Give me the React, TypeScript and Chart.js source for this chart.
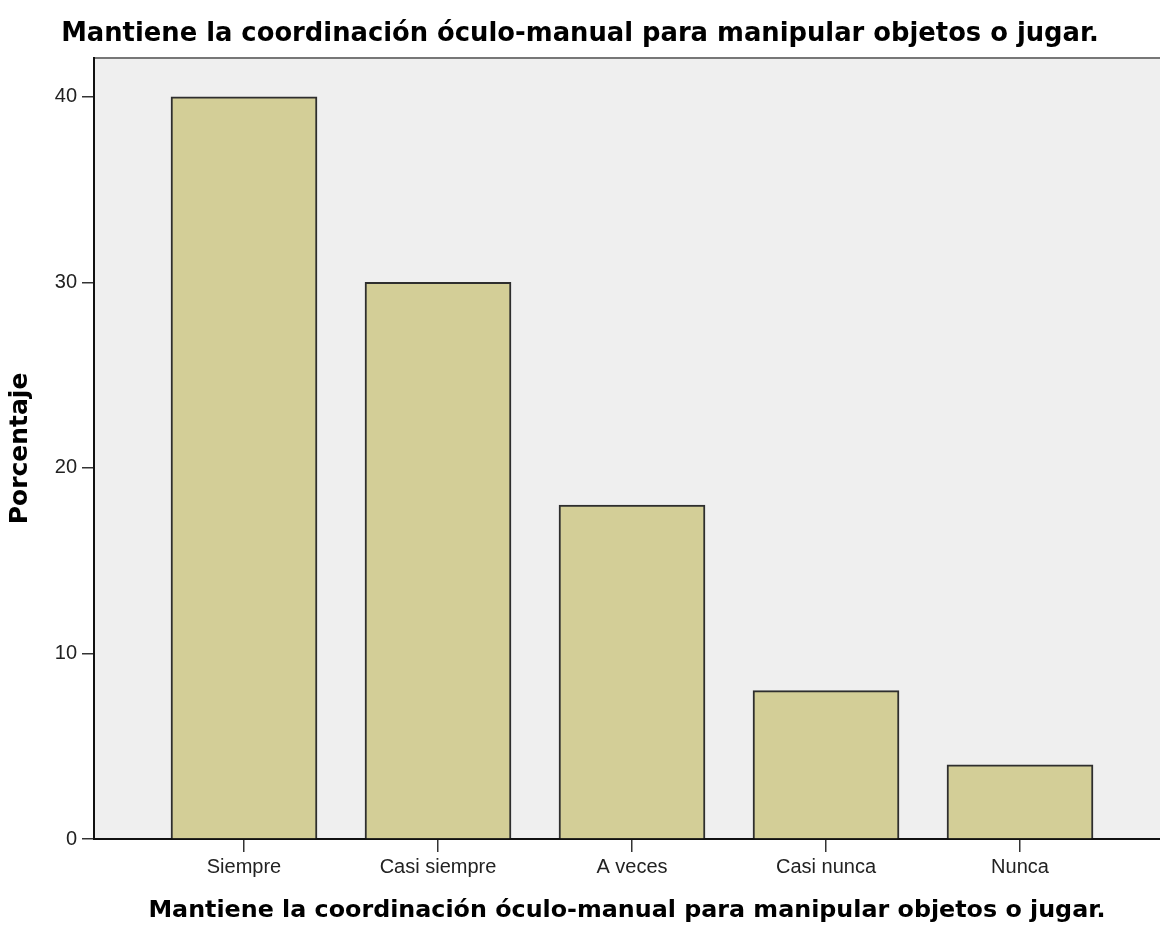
import React, { useEffect, useRef } from "react";
import { Chart, registerables } from "chart.js";

Chart.register(...registerables);

const titleText = "Mantiene la coordinación óculo-manual para manipular objetos o jugar.";
const categories = ["Siempre", "Casi siempre", "A veces", "Casi nunca", "Nunca"];
const percentages = [40, 30, 18, 8, 4];
const yTicks = [0, 10, 20, 30, 40];
const yAxisTitle = "Porcentaje";

const plotBackground = {
  id: "plotBackground",
  beforeDraw(chart: any) {
    const { ctx, chartArea } = chart;
    if (!chartArea) return;
    ctx.save();
    ctx.fillStyle = "#efefef";
    ctx.fillRect(chartArea.left, chartArea.top, chartArea.right - chartArea.left, chartArea.bottom - chartArea.top);
    ctx.strokeStyle = "#777777";
    ctx.lineWidth = 2;
    ctx.beginPath();
    ctx.moveTo(chartArea.left - 1, chartArea.top);
    ctx.lineTo(chartArea.right, chartArea.top);
    ctx.stroke();
    ctx.restore();
  },
};

export default function App() {
  const ref = useRef<HTMLCanvasElement | null>(null);
  useEffect(() => {
    if (!ref.current) return;
    const chart = new Chart(ref.current, {
      type: "bar",
      data: {
        datasets: [
          {
            data: percentages.map((v, i) => ({ x: i, y: v })),
            backgroundColor: "#d3ce97",
            borderColor: "#2e2e2e",
            borderWidth: 2,
            barThickness: 146,
          } as any,
        ],
      },
      plugins: [plotBackground],
      options: {
        responsive: false,
        animation: false,
        layout: { padding: 0 },
        plugins: {
          legend: { display: false },
          tooltip: { enabled: false },
          title: {
            display: true,
            text: titleText,
            color: "#000",
            font: { family: "DejaVu Sans", weight: "bold", size: 25.8 },
            padding: { top: 19, bottom: 8 },
          },
        },
        scales: {
          x: {
            type: "linear",
            offset: false,
            min: -0.7732,
            max: 4.7216,
            afterBuildTicks: (scale: any) => {
              scale.ticks = categories.map((_, i) => ({ value: i }));
            },
            afterFit: (scale: any) => {
              scale.height = 86;
            },
            ticks: {
              callback: (v: any) => categories[v as number] ?? "",
              color: "#222",
              font: { family: "Liberation Sans", size: 20 },
              padding: 3,
              maxRotation: 0,
              autoSkip: false,
            },
            grid: { offset: false, drawOnChartArea: false, drawTicks: true, tickLength: 13, color: "#333", lineWidth: 1.5 },
            border: { color: "#111", width: 2 },
            title: {
              display: true,
              text: titleText,
              color: "#000",
              font: { family: "DejaVu Sans", weight: "bold", size: 23.8 },
              padding: { top: 0, bottom: 0 },
            },
          },
          y: {
            type: "linear",
            min: 0,
            max: 42.1,
            afterBuildTicks: (scale: any) => {
              scale.ticks = yTicks.map((v) => ({ value: v }));
            },
            afterFit: (scale: any) => {
              scale.width = 94;
            },
            ticks: {
              color: "#222",
              font: { family: "Liberation Sans", size: 20 },
              padding: 5,
            },
            grid: { drawOnChartArea: false, drawTicks: true, tickLength: 12, color: "#333", lineWidth: 1.5 },
            border: { color: "#111", width: 2 },
            title: {
              display: true,
              text: yAxisTitle,
              color: "#000",
              font: { family: "DejaVu Sans", weight: "bold", size: 25 },
              padding: { top: 5, bottom: 0 },
            },
          },
        },
      },
    } as any);
    return () => chart.destroy();
  }, []);
  return (
    <div style={{ position: "absolute", left: 0, top: 0, width: 1160, height: 925, background: "#fff" }}>
      <canvas ref={ref} width={1160} height={925} />
    </div>
  );
}
